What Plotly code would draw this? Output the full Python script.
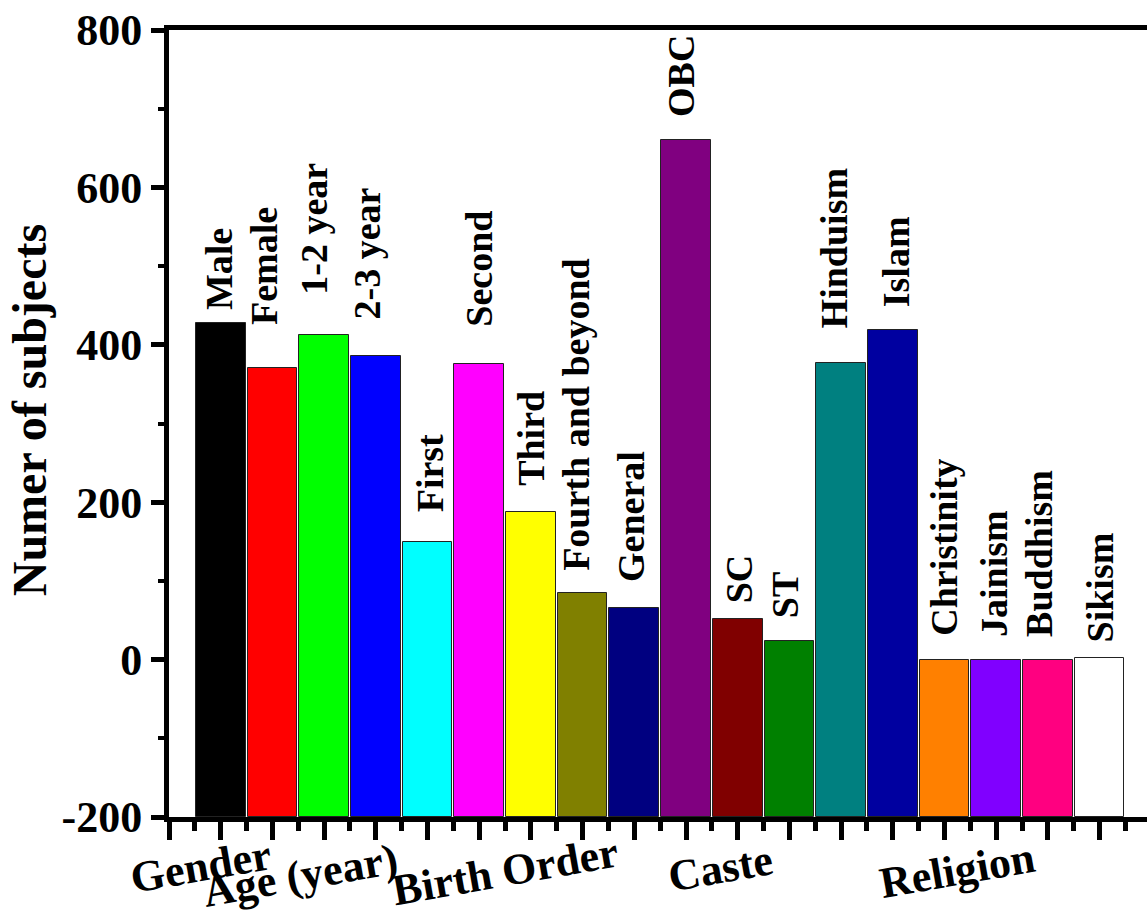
import plotly.graph_objects as go

# ---- data ----
categories = ["Male", "Female", "1-2 year", "2-3 year", "First", "Second", "Third",
              "Fourth and beyond", "General", "OBC", "SC", "ST", "Hinduism", "Islam",
              "Christinity", "Jainism", "Buddhism", "Sikism"]
values = [428, 371, 413, 386, 149, 376, 187, 85, 65, 660, 51, 24, 377, 419, 0, 0, 0, 2]
colors = ["#000000", "#FF0000", "#00FF00", "#0000FF", "#00FFFF", "#FF00FF", "#FFFF00",
          "#808000", "#000080", "#800080", "#800000", "#008000", "#008080", "#0000A0",
          "#FF8000", "#8000FF", "#FF0080", "#FFFFFF"]
groups = ["Gender", "Age (year)", "Birth Order", "Caste", "Religion"]
y_ticks = [-200, 0, 200, 400, 600, 800]

# ---- layout-only helpers (label placement) ----
label_dx = [-0.03, -0.16, -0.2, -0.17, 0.05, 0.0, 0.0, -0.13, -0.06, -0.1, 0.03, -0.07,
            -0.14, 0.06, 0.0, -0.04, -0.17, 0.0]
label_base = [443, 424, 462, 431, 186, 422, 220, 112, 97, 688, 70, 51, 420, 447, 29, 27, 27, 20]
group_x = [0.62, 2.55, 6.5, 10.66, 15.24]
group_y = [-0.063, -0.074, -0.069, -0.065, -0.068]

FONT = "Liberation Serif, Times New Roman, serif"
Y_MIN, Y_MAX = -200, 800

xs = list(range(1, len(categories) + 1))
fig = go.Figure()
fig.add_trace(go.Bar(
    x=xs,
    y=[v - Y_MIN for v in values],
    base=Y_MIN,
    width=0.96,
    marker=dict(color=colors, line=dict(color="#222222", width=1)),
    hovertext=categories,
    showlegend=False,
))

annotations = []
for i, (cat, dx, b) in enumerate(zip(categories, label_dx, label_base)):
    annotations.append(dict(
        x=xs[i] + dx, y=b, xref="x", yref="y", text=cat, showarrow=False,
        textangle=-90, xanchor="center", yanchor="bottom", borderpad=0,
        font=dict(family=FONT, size=38, color="black", weight="bold"),
    ))
for g, gx, gy in zip(groups, group_x, group_y):
    annotations.append(dict(
        x=gx, y=gy, xref="x", yref="paper", text=g, showarrow=False,
        textangle=-10, xanchor="center", yanchor="middle", borderpad=0,
        font=dict(family=FONT, size=44, color="black", weight="bold"),
    ))
annotations.append(dict(
    x=-0.143, y=0.517, xref="paper", yref="paper", text="Numer of subjects",
    showarrow=False, textangle=-90, xanchor="center", yanchor="middle",
    font=dict(family=FONT, size=48, color="black", weight="bold"),
))

fig.update_layout(
    width=1147, height=915,
    margin=dict(l=169, r=0, t=30, b=98),
    plot_bgcolor="white", paper_bgcolor="white",
    annotations=annotations,
    bargap=0,
)
fig.update_xaxes(
    range=[0, 978 / 51.7], showgrid=False, zeroline=False,
    showline=True, linecolor="black", linewidth=5, mirror=True,
    tickmode="linear", tick0=0, dtick=1, ticks="outside", ticklen=18, tickwidth=5,
    tickcolor="black", showticklabels=False,
    minor=dict(ticks="outside", ticklen=9, tickwidth=5, tickcolor="black",
               tickmode="linear", tick0=0.5, dtick=1),
)
fig.update_yaxes(
    range=[Y_MIN, Y_MAX], showgrid=False, zeroline=False,
    showline=True, linecolor="black", linewidth=5, mirror=False,
    tickmode="array", tickvals=y_ticks, ticktext=[str(t) for t in y_ticks],
    ticks="outside", ticklen=13, tickwidth=5, tickcolor="black",
    tickfont=dict(family=FONT, size=44, color="black", weight="bold"),
    minor=dict(ticks="outside", ticklen=6, tickwidth=4, tickcolor="black",
               tickmode="linear", tick0=-100, dtick=200),
)

fig.write_html(
    "out.html",
    config={"displayModeBar": False},
    post_script="document.body.style.margin='0';document.body.style.overflow='hidden';",
)
